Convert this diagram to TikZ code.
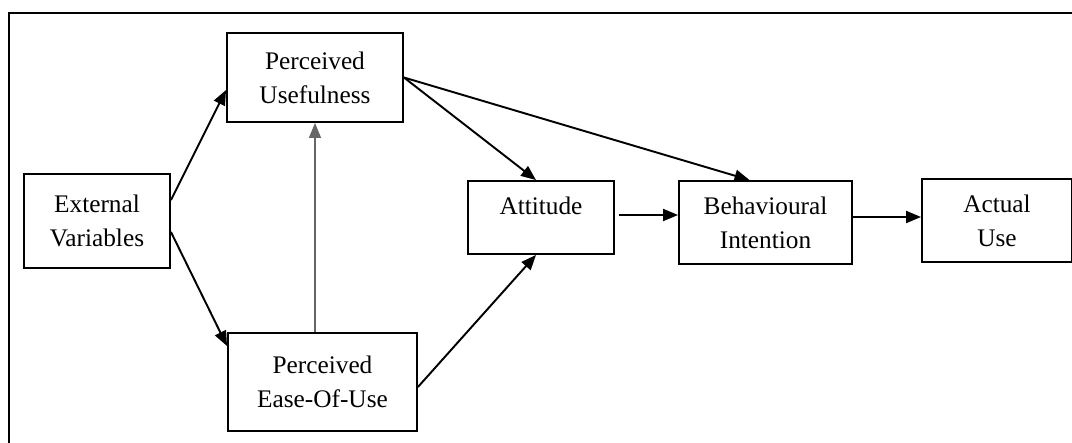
\documentclass[tikz,border=0pt]{standalone}
\usepackage{fontspec}
\setmainfont{Liberation Serif}
\usepackage{tikz}
\usetikzlibrary{positioning}
\usetikzlibrary{arrows.meta}

\tikzset{
  box/.style={draw, line width=1.1pt, align=center, inner sep=2pt,
    font=\fontsize{14.4}{19.3}\selectfont},
  link/.style={line width=1.1pt, ->},
  thinlink/.style={line width=0.8pt, draw=black!60, ->}
}

\begin{document}
\begin{tikzpicture}[x=0.02cm, y=-0.02cm, >={Triangle[length=3mm,width=2.4mm]}]
\useasboundingbox (0,0) rectangle (1072,443);
% frame
\draw [line width=1.1pt] (9,443) -- (9,13) -- (1072,13);
% boxes
\node [box, minimum width=2.92cm, minimum height=1.88cm] (ev) at (97,221) {External\\Variables};
\node [box, minimum width=3.52cm, minimum height=1.78cm] (pu) at (315,77.5) {Perceived\\Usefulness};
\node [box, minimum width=3.78cm, minimum height=1.96cm] (peou) at (322.5,382) {Perceived\\Ease-Of-Use};
\node [box, minimum width=2.92cm, minimum height=1.46cm, text depth=0.48cm] (att) at (541,217.5) {Attitude};
\node [box, minimum width=3.46cm, minimum height=1.66cm] (bi) at (765.5,222.5) {Behavioural\\Intention};
\node [box, minimum width=3.00cm, minimum height=1.66cm] (au) at (997,220.5) {Actual\\Use};
% arrows
\draw [link] ([yshift=0.42cm]ev.east) -- ([yshift=-0.25cm]pu.west);
\draw [link] ([yshift=-0.22cm]ev.east) -- ([yshift=-0.28cm]peou.north west);
\draw [thinlink] (peou.north -| pu.south) -- (pu.south);
\draw [link] (pu.east) -- ([xshift=-0.1cm]att.north);
\draw [link] (pu.east) -- ([xshift=-0.32cm]bi.north);
\draw [link] ([yshift=-0.1cm]peou.east) -- ([xshift=-0.1cm]att.south);
\draw [link] ([xshift=0.08cm,yshift=0.05cm]att.east) -- ([yshift=0.05cm]att.east -| bi.west);
\draw [link] ([yshift=0.11cm]bi.east) -- ([yshift=0.11cm]bi.east -| au.west);
\end{tikzpicture}
\end{document}
